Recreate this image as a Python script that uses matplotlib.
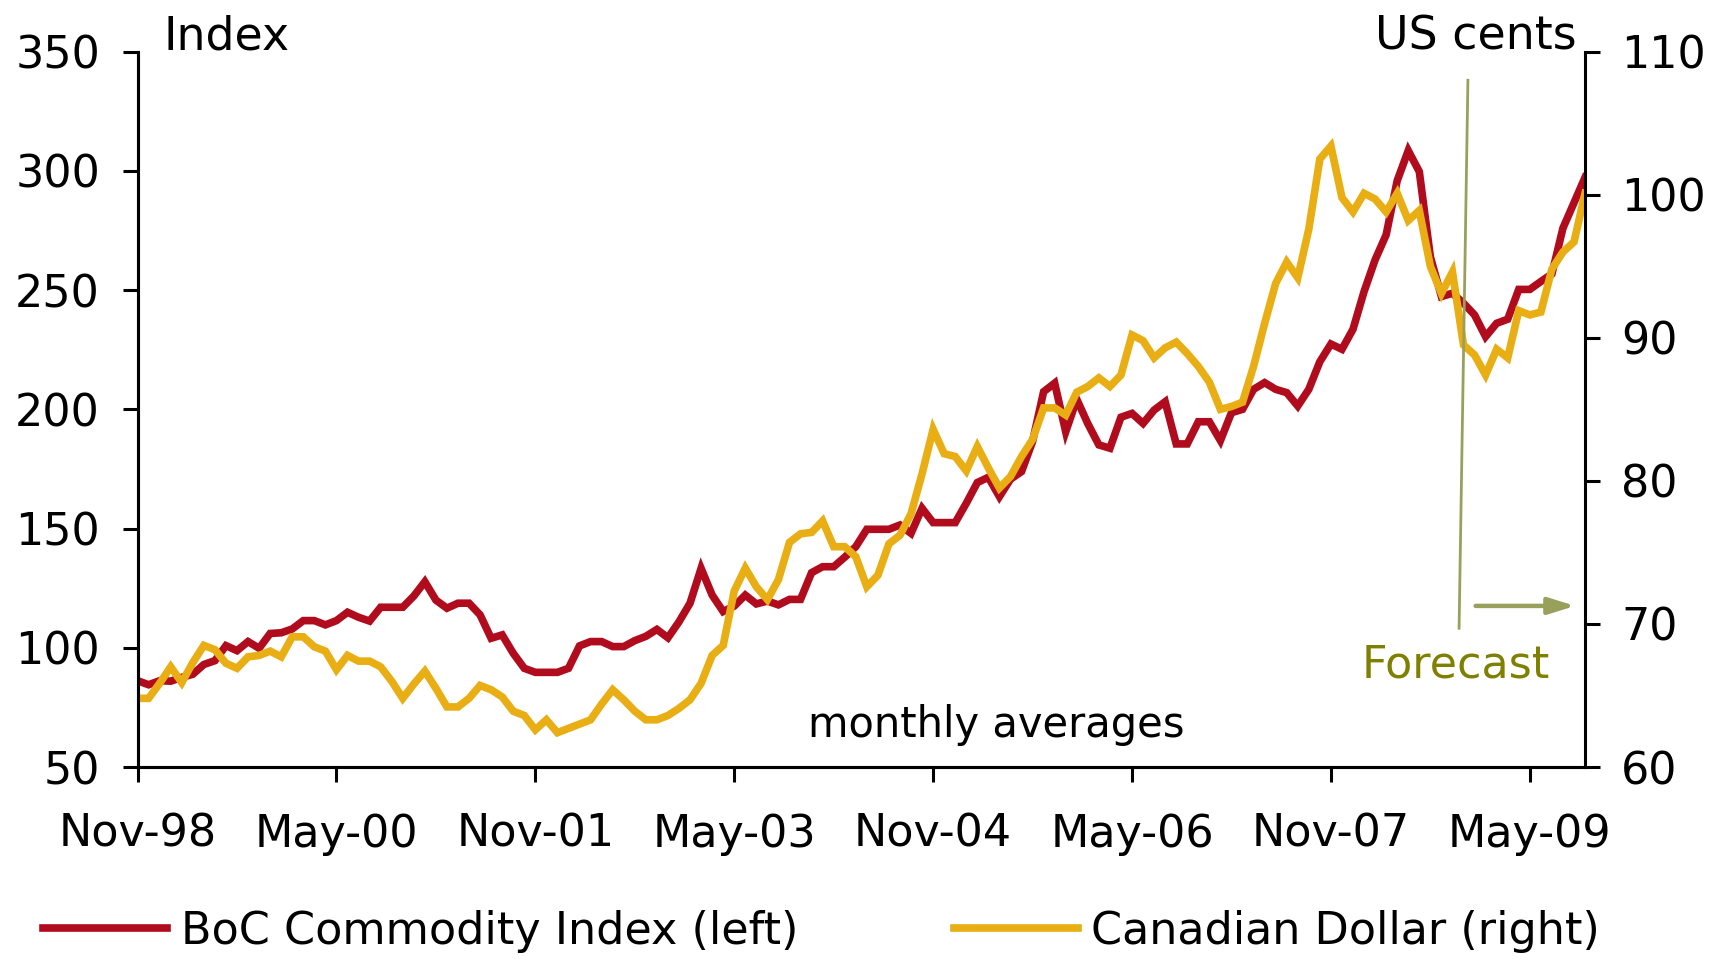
import numpy as np
import pandas as pd
import matplotlib
matplotlib.use('Agg')
import matplotlib.pyplot as plt

# monthly averages, Nov-98 .. Oct-09
months = pd.period_range('1998-11', '2009-10', freq='M')

boc_index = [
    86.2, 84.5, 86.2, 86.0, 87.6, 88.9, 93.0, 94.6, 100.9, 98.8, 102.6, 99.8,
    106.0, 106.3, 107.9, 111.4, 111.4, 109.6, 111.4, 114.9, 112.8, 111.2, 117.0, 117.0,
    117.0, 121.7, 127.7, 120.0, 116.6, 118.7, 118.7, 113.8, 104.0, 105.4, 97.7, 91.4,
    89.7, 89.7, 89.7, 91.4, 100.8, 102.6, 102.6, 100.5, 100.5, 103.0, 104.8, 107.7,
    104.2, 110.9, 118.7, 133.3, 122.1, 115.2, 117.5, 122.1, 118.4, 119.6, 118.0, 120.3,
    120.3, 131.5, 134.0, 134.0, 138.0, 142.4, 149.7, 149.7, 149.7, 151.5, 148.0, 158.5,
    152.5, 152.5, 152.5, 160.6, 169.3, 171.5, 163.4, 170.7, 173.9, 186.5, 207.4, 211.0,
    190.6, 204.2, 194.0, 185.1, 183.7, 196.7, 198.3, 194.1, 199.7, 203.2, 185.5, 185.5,
    194.8, 194.8, 186.9, 198.6, 200.0, 208.4, 211.2, 208.4, 207.0, 201.4, 208.4, 220.0,
    227.4, 225.2, 233.6, 249.4, 262.7, 273.2, 295.9, 308.5, 299.7, 264.0, 247.3, 248.7,
    244.5, 239.6, 230.5, 236.1, 237.8, 250.3, 250.3, 253.6, 256.8, 276.0, 286.7, 297.3,
]

cad_usd = [
    64.8, 64.8, 65.85, 67.0, 65.9, 67.3, 68.5, 68.2, 67.25, 66.9, 67.7, 67.8,
    68.1, 67.7, 69.1, 69.1, 68.4, 68.1, 66.8, 67.8, 67.4, 67.4, 67.0, 66.0,
    64.8, 65.8, 66.7, 65.5, 64.2, 64.2, 64.8, 65.7, 65.4, 64.9, 63.9, 63.6,
    62.6, 63.3, 62.4, 62.7, 63.0, 63.3, 64.4, 65.4, 64.7, 63.9, 63.3, 63.3,
    63.6, 64.1, 64.7, 65.85, 67.8, 68.5, 72.3, 73.9, 72.6, 71.7, 73.1, 75.7,
    76.3, 76.4, 77.2, 75.4, 75.4, 74.7, 72.6, 73.4, 75.6, 76.2, 77.7, 80.5,
    83.6, 81.9, 81.7, 80.7, 82.4, 80.9, 79.5, 80.3, 81.7, 82.9, 85.1, 85.1,
    84.6, 86.2, 86.6, 87.2, 86.6, 87.4, 90.2, 89.8, 88.6, 89.3, 89.7, 88.9,
    88.0, 86.9, 85.0, 85.2, 85.5, 88.0, 91.0, 93.8, 95.3, 94.2, 97.6, 102.5,
    103.4, 99.8, 98.8, 100.1, 99.7, 98.8, 100.1, 98.2, 98.9, 95.0, 93.1, 94.6,
    89.5, 88.8, 87.4, 89.2, 88.6, 91.9, 91.6, 91.8, 94.8, 96.0, 96.7, 100.1,
]

tick_labels = ['Nov-98', 'May-00', 'Nov-01', 'May-03', 'Nov-04', 'May-06', 'Nov-07', 'May-09']
forecast_start = 120  # Nov-08

red = '#B00C1E'
gold = '#E8AE14'
olive_line = '#98A05C'
olive_text = '#808000'

plt.rcParams['font.family'] = 'DejaVu Sans'
x = np.arange(len(months))

fig = plt.figure(figsize=(17.13, 9.59), dpi=100)
ax = fig.add_axes([0.0803, 0.2002, 0.8450, 0.7459])
ax2 = ax.twinx()

l1, = ax.plot(x, boc_index, color=red, lw=5.5, solid_joinstyle='miter',
              label='BoC Commodity Index (left)')
l2, = ax2.plot(x, cad_usd, color=gold, lw=5.5, solid_joinstyle='miter',
               label='Canadian Dollar (right)')

ax.set_xlim(0, len(x) - 1)
ax.set_ylim(50, 350)
ax2.set_ylim(60, 110)
ax.set_yticks(range(50, 351, 50))
ax2.set_yticks(range(60, 111, 10))
ax.set_xticks(x[::18])
ax.set_xticklabels(tick_labels)

for a in (ax, ax2):
    a.spines['top'].set_visible(False)
    for s in a.spines.values():
        s.set_linewidth(2.2)
ax.spines['right'].set_visible(False)
ax.tick_params(axis='x', direction='out', length=11, width=2.2, labelsize=32, pad=22)
ax.tick_params(axis='y', direction='out', length=11, width=2.2, labelsize=32, pad=16)
ax2.tick_params(axis='y', direction='out', length=11, width=2.2, labelsize=32, pad=15)

# forecast marker
ax2.plot([forecast_start + 0.4, forecast_start - 0.4], [108.0, 69.7], color=olive_line, lw=2)
ax2.annotate('', xy=(130.1, 71.26), xytext=(121.1, 71.26),
             arrowprops=dict(arrowstyle='-|>,head_length=0.8,head_width=0.25',
                             mutation_scale=20, lw=3.2, color=olive_line,
                             shrinkA=0, shrinkB=0, capstyle='round'))

fig.text(0.0957, 0.9479, 'Index', fontsize=33)
fig.text(0.9206, 0.9479, 'US cents', fontsize=33, ha='right')
fig.text(0.5814, 0.2315, 'monthly averages', fontsize=30, ha='center')
fig.text(0.850, 0.2933, 'Forecast', fontsize=32, ha='center', color=olive_text)

fig.legend(handles=[l1, l2], loc='center left', bbox_to_anchor=(0.0251, 0.029),
           ncol=2, frameon=False, fontsize=32, handlelength=2.8, handletextpad=0.3,
           columnspacing=3.5, borderpad=0, borderaxespad=0)

fig.savefig('out.png', dpi=100)
